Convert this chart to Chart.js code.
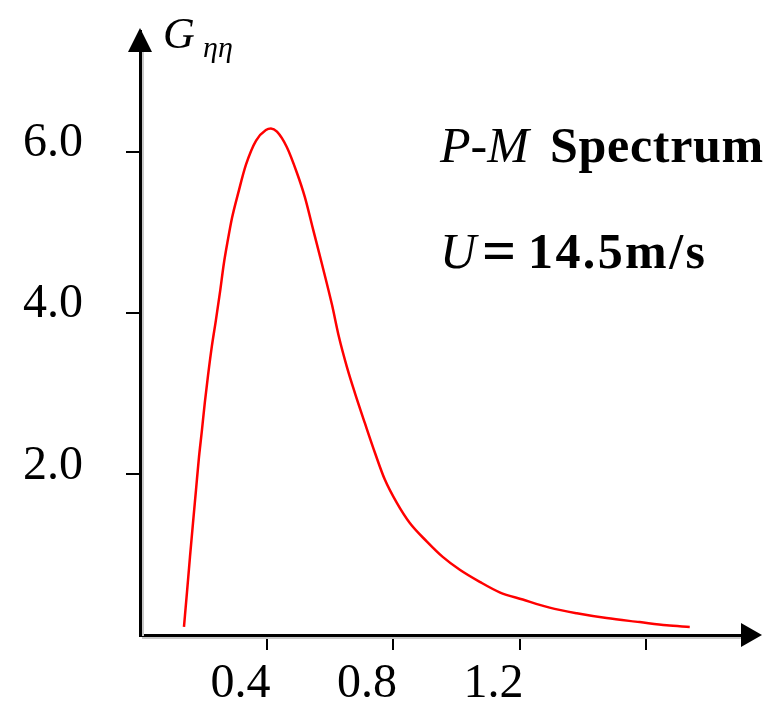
<!DOCTYPE html>
<html>
<head>
<meta charset="utf-8">
<script src="https://cdn.jsdelivr.net/npm/chart.js@4/dist/chart.umd.min.js"></script>
<style>
  html, body { margin: 0; padding: 0; background: #fff; }
  canvas { display: block; }
</style>
</head>
<body>
<canvas id="grafico" width="763" height="703"></canvas>
<script>
// frecuencias (eje x) y densidad espectral G_eta_eta
const frecuencias = [0.139, 0.1485, 0.158, 0.1675, 0.177, 0.186, 0.196, 0.205, 0.215, 0.227,
  0.240, 0.253, 0.265, 0.278, 0.291, 0.310, 0.335, 0.367, 0.398, 0.414,
  0.433, 0.464, 0.496, 0.521, 0.547, 0.575, 0.607, 0.629, 0.654, 0.679,
  0.711, 0.743, 0.774, 0.812, 0.853, 0.907, 0.957, 1.011, 1.074, 1.137,
  1.210, 1.295, 1.381, 1.475, 1.580, 1.665, 1.738];
const espectro = [0.10, 0.53, 0.97, 1.39, 1.80, 2.19, 2.55, 2.89, 3.22, 3.58,
  3.91, 4.26, 4.61, 4.91, 5.18, 5.48, 5.84, 6.14, 6.27, 6.29,
  6.25, 6.06, 5.74, 5.44, 5.04, 4.61, 4.10, 3.70, 3.33, 3.01,
  2.63, 2.26, 1.93, 1.64, 1.39, 1.16, 0.97, 0.81, 0.66, 0.53,
  0.44, 0.34, 0.27, 0.21, 0.16, 0.12, 0.10];

const ticksX = [0.4, 0.8, 1.2, 1.6];
const etiquetasX = ["0.4", "0.8", "1.2", ""];
const ticksY = [2, 4, 6];
const etiquetasY = ["2.0", "4.0", "6.0"];

const puntos = frecuencias.map((f, i) => ({ x: f, y: espectro[i] }));

const decoracion = {
  id: "decoracion",
  afterDraw(chart) {
    const { ctx, chartArea: a } = chart;
    ctx.save();
    // sombras grises de los ejes
    ctx.strokeStyle = "#c8c8c8";
    ctx.lineWidth = 2;
    ctx.beginPath();
    ctx.moveTo(a.left + 3, a.top + 20);
    ctx.lineTo(a.left + 3, a.bottom + 1);
    ctx.moveTo(a.left + 2, a.bottom + 3);
    ctx.lineTo(a.right, a.bottom + 3);
    ctx.stroke();
    // flechas
    ctx.fillStyle = "#000";
    ctx.beginPath();
    ctx.moveTo(a.left, a.top - 3);
    ctx.lineTo(a.left - 12, a.top + 21);
    ctx.lineTo(a.left + 12, a.top + 21);
    ctx.closePath();
    ctx.fill();
    ctx.beginPath();
    ctx.moveTo(a.right + 21, a.bottom);
    ctx.lineTo(a.right, a.bottom - 12);
    ctx.lineTo(a.right, a.bottom + 12);
    ctx.closePath();
    ctx.fill();
    // etiqueta del eje y
    ctx.textBaseline = "alphabetic";
    ctx.textAlign = "left";
    ctx.font = "italic 44px 'Liberation Serif'";
    ctx.fillText("G", 163, 48);
    ctx.font = "italic 30px 'Liberation Serif'";
    ctx.fillText("ηη", 203, 57);
    // textos
    ctx.font = "italic 50px 'Liberation Serif'";
    ctx.fillText("P-M", 440, 162);
    ctx.font = "bold 50px 'Liberation Serif'";
    ctx.letterSpacing = "0.7px";
    ctx.fillText("Spectrum", 550, 162);
    ctx.letterSpacing = "0px";
    ctx.font = "italic 50px 'Liberation Serif'";
    ctx.fillText("U", 440, 268);
    ctx.font = "bold 60px 'Liberation Serif'";
    ctx.fillText("=", 482, 270);
    ctx.font = "bold 50px 'Liberation Serif'";
    ctx.letterSpacing = "2.4px";
    ctx.fillText("14.5m/s", 528, 268);
    ctx.restore();
  }
};

new Chart(document.getElementById("grafico"), {
  type: "line",
  data: {
    datasets: [{
      data: puntos,
      borderColor: "#ff0000",
      borderWidth: 2.5,
      pointRadius: 0,
      cubicInterpolationMode: "monotone",
      fill: false
    }]
  },
  options: {
    responsive: false,
    animation: false,
    devicePixelRatio: 1,
    layout: { padding: { top: 31, right: 22, left: 0, bottom: 0 } },
    plugins: { legend: { display: false }, tooltip: { enabled: false } },
    scales: {
      x: {
        type: "linear",
        min: 0,
        max: 1.9,
        afterBuildTicks(scale) { scale.ticks = ticksX.map(v => ({ value: v })); },
        afterFit(scale) {
          scale.height = 68;
          scale.paddingLeft = 0;
          scale.paddingRight = 0;
        },
        grid: { drawOnChartArea: false, drawTicks: true, tickLength: 15, color: "#000", lineWidth: 2 },
        border: { color: "#000", width: 3 },
        ticks: {
          callback: (v) => etiquetasX[ticksX.indexOf(v)],
          labelOffset: -26,
          padding: 6,
          maxRotation: 0,
          color: "#000",
          font: { family: "'Liberation Serif'", size: 48 }
        }
      },
      y: {
        type: "linear",
        min: 0,
        max: 7.5,
        afterBuildTicks(scale) { scale.ticks = ticksY.map(v => ({ value: v })); },
        afterFit(scale) {
          scale.width = 140;
          scale.paddingTop = 0;
          scale.paddingBottom = 0;
        },
        grid: { drawOnChartArea: false, drawTicks: true, tickLength: 14, color: "#000", lineWidth: 2 },
        border: { color: "#000", width: 3 },
        ticks: {
          callback: (v) => etiquetasY[ticksY.indexOf(v)],
          labelOffset: -8,
          padding: 43,
          color: "#000",
          font: { family: "'Liberation Serif'", size: 48 }
        }
      }
    }
  },
  plugins: [decoracion]
});
</script>
</body>
</html>
